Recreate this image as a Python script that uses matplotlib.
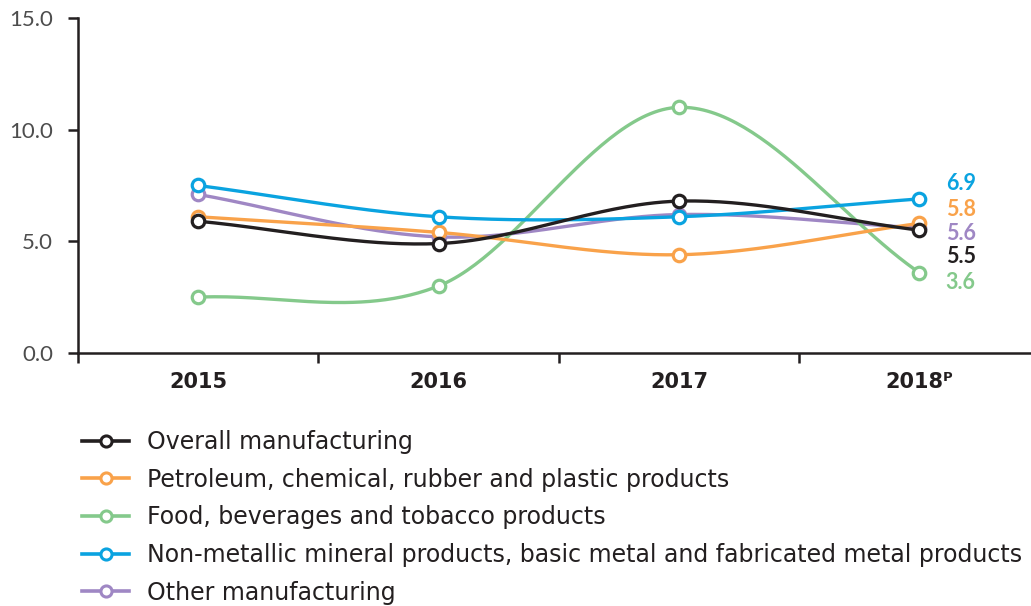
import numpy as np
import matplotlib
matplotlib.use('Agg')
import matplotlib.pyplot as plt
from matplotlib.ticker import FixedLocator

plt.rcParams['font.family'] = ['Lato', 'DejaVu Sans']

years = ['2015', '2016', '2017', '2018ᴾ']
series_names = [
    'Overall manufacturing',
    'Petroleum, chemical, rubber and plastic products',
    'Food, beverages and tobacco products',
    'Non-metallic mineral products, basic metal and fabricated metal products',
    'Other manufacturing',
]
overall = [5.9, 4.9, 6.8, 5.5]
petroleum = [6.1, 5.4, 4.4, 5.8]
food = [2.5, 3.0, 11.0, 3.6]
nonmetal = [7.5, 6.1, 6.1, 6.9]
other = [7.1, 5.2, 6.2, 5.6]

colors = ['#231f20', '#f9a24a', '#84c98b', '#0aa3e0', '#9f87c4']
# vertical nudges (points) for the end labels so they don't collide
label_nudge = [-19, 10, -7, 11, -4]


def smooth(y, n=60):
    # Catmull-Rom style curve through the points
    y = np.asarray(y, dtype=float)
    k = len(y)
    m = np.zeros(k)
    m[1:-1] = (y[2:] - y[:-2]) / 2
    m[0] = y[1] - y[0]
    m[-1] = y[-1] - y[-2]
    xs, ys = [], []
    for i in range(k - 1):
        t = np.linspace(0, 1, n)
        h00 = 2 * t**3 - 3 * t**2 + 1
        h10 = t**3 - 2 * t**2 + t
        h01 = -2 * t**3 + 3 * t**2
        h11 = t**3 - t**2
        xs.append(i + t)
        ys.append(h00 * y[i] + h10 * m[i] + h01 * y[i + 1] + h11 * m[i + 1])
    return np.concatenate(xs), np.concatenate(ys)


fig = plt.figure(figsize=(10.31, 6.06), dpi=100)
ax = fig.add_axes([0.0757, 0.4175, 0.9243, 0.5528])

data = [overall, petroleum, food, nonmetal, other]
order = [4, 2, 1, 3, 0]
handles = [None] * 5
x = np.arange(len(years))
for i in order:
    vals = data[i]
    sx, sy = smooth(vals)
    ax.plot(sx, sy, color=colors[i], lw=2.4, zorder=2 + order.index(i), solid_capstyle='round')
    ax.plot(x, vals, 'o', ms=9, mfc='white', mec=colors[i], mew=2.3, zorder=2 + order.index(i))
    handles[i] = plt.Line2D([], [], color=colors[i], lw=2.6, marker='o', ms=8,
                            mfc='white', mec=colors[i], mew=2.2)
    ax.annotate('%.1f' % vals[-1], xy=(x[-1], vals[-1]), xytext=(19, label_nudge[i]),
                textcoords='offset points', ha='left', va='center',
                color=colors[i], fontsize=15.5, fontweight='bold')

ax.set_xlim(-0.5, 3.465)
ax.set_ylim(0, 15)
ax.set_yticks([0, 5, 10, 15])
ax.set_yticklabels(['0.0', '5.0', '10.0', '15.0'])
ax.set_xticks(x)
ax.set_xticklabels(years, fontweight='bold', fontsize=15, color='#231f20',
                   family=['Liberation Sans Narrow', 'DejaVu Sans'])
ax.xaxis.set_minor_locator(FixedLocator([-0.5, 0.5, 1.5, 2.5, 3.5]))
ax.tick_params(axis='x', which='major', length=0, pad=14)
ax.tick_params(axis='x', which='minor', length=7, width=1.8, color='#231f20')
ax.tick_params(axis='y', length=7, width=1.8, color='#231f20', labelsize=16,
               labelcolor='#4d4d4d', pad=11)
for s in ['top', 'right']:
    ax.spines[s].set_visible(False)
for s in ['left', 'bottom']:
    ax.spines[s].set_linewidth(1.8)
    ax.spines[s].set_color('#231f20')

fig.legend(handles, series_names, loc='upper left', bbox_to_anchor=(0.068, 0.31),
           frameon=False, handlelength=2.0, handletextpad=0.75,
           labelspacing=0.58, numpoints=1, borderpad=0, labelcolor='#231f20',
           prop={'family': 'DejaVu Sans', 'size': 17})

fig.savefig('out.png', dpi=100)
